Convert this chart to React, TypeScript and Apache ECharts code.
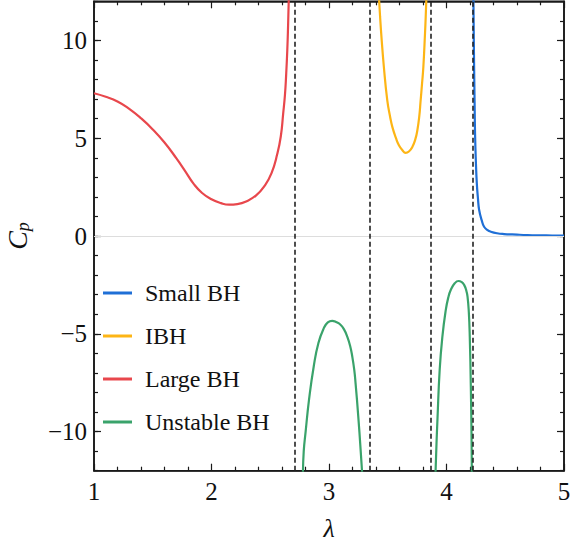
import React, { useEffect, useRef } from "react";
import * as echarts from "echarts";

// ---- data ----
const smallBH: [number, number][] = [
  [4.229, 12.2], [4.232, 10.3], [4.235, 8.64], [4.239, 6.9], [4.243, 5.24], [4.25, 3.8],
  [4.258, 2.69], [4.268, 1.9], [4.278, 1.33], [4.3, 0.8], [4.32, 0.47], [4.35, 0.3],
  [4.377, 0.22], [4.43, 0.14], [4.49, 0.1], [4.6, 0.07], [4.69, 0.05], [4.8, 0.035],
  [4.9, 0.025], [5.0, 0.02],
];
const ibh: [number, number][] = [
  [3.425, 12.2], [3.435, 11.2], [3.445, 10.3], [3.467, 8.64], [3.496, 6.94], [3.52, 6.1],
  [3.539, 5.58], [3.57, 5.0], [3.595, 4.64], [3.625, 4.38], [3.652, 4.25], [3.68, 4.32],
  [3.71, 4.56], [3.735, 4.95], [3.752, 5.41], [3.768, 6.1], [3.78, 6.94], [3.792, 7.8],
  [3.803, 8.64], [3.817, 10.34], [3.823, 11.2], [3.829, 12.2],
];
const largeBH: [number, number][] = [
  [1.0, 7.3], [1.1, 7.12], [1.2, 6.88], [1.3, 6.5], [1.4, 6.02], [1.5, 5.45], [1.6, 4.78],
  [1.7, 3.98], [1.77, 3.37], [1.85, 2.65], [1.92, 2.2], [2.0, 1.88], [2.08, 1.68],
  [2.15, 1.6], [2.22, 1.63], [2.3, 1.78], [2.38, 2.08], [2.45, 2.55], [2.51, 3.2],
  [2.56, 4.2], [2.59, 5.1], [2.61, 6.26], [2.625, 7.2], [2.635, 8.2], [2.645, 9.5],
  [2.652, 10.8], [2.658, 12.2],
];
const unstableBH1: [number, number][] = [
  [2.778, -12.2], [2.785, -11.0], [2.8, -10.07], [2.83, -8.37], [2.87, -6.67], [2.91, -5.47],
  [2.956, -4.71], [2.99, -4.42], [3.027, -4.34], [3.06, -4.4], [3.098, -4.54], [3.13, -4.8],
  [3.155, -5.14], [3.18, -5.62], [3.198, -6.16], [3.215, -6.85], [3.226, -7.52],
  [3.249, -9.22], [3.269, -10.92], [3.283, -12.2],
];
const unstableBH2: [number, number][] = [
  [3.906, -12.2], [3.915, -10.6], [3.923, -9.39], [3.942, -6.84], [3.965, -5.14],
  [3.994, -3.78], [4.015, -3.15], [4.036, -2.76], [4.07, -2.42], [4.102, -2.3], [4.13, -2.36],
  [4.15, -2.5], [4.168, -2.78], [4.179, -3.1], [4.19, -3.9], [4.198, -5.14], [4.207, -7.69],
  [4.213, -10.24], [4.216, -12.2],
];
const asymptotes = [2.714, 3.354, 3.874, 4.224];
const yMajorTicks = [-10, -5, 0, 5, 10];
const xRange = [1, 5];
const yRange = [-12, 12];

const FONT = "Liberation Serif";
const FRAME = "#1a1a1a";

const fmtNum = (v: number) => (v < 0 ? "\u2212" + Math.abs(v) : String(v));
const blank = () => "";

export default function App() {
  const ref = useRef<HTMLDivElement>(null);
  useEffect(() => {
    if (!ref.current) return;
    const chart = echarts.init(ref.current, undefined, { renderer: "svg" });

    const xAxisDef = (pos: "bottom" | "top", labels: boolean) => {
      const ax: any = {
        type: "value",
        position: pos,
        min: xRange[0],
        max: xRange[1],
        interval: 1,
        axisLine: { show: true, onZero: false, lineStyle: { color: FRAME, width: 1.6 } },
        axisTick: { show: true, inside: true, length: 7, lineStyle: { color: FRAME, width: 1.2 } },
        minorTick: { show: true, splitNumber: 5, length: 4, lineStyle: { color: FRAME, width: 1.2 } },
        splitLine: { show: false },
        axisLabel: {
          show: true,
          fontFamily: FONT,
          fontSize: 25,
          color: "#111",
          margin: 8,
          formatter: labels ? fmtNum : blank,
        },
      };
      if (labels) {
        ax.name = "λ";
        ax.nameLocation = "middle";
        ax.nameGap = 45;
        ax.nameTextStyle = { fontFamily: FONT, fontSize: 26, fontStyle: "italic", color: "#111" };
      }
      return ax;
    };

    const yMinorDef = (pos: "left" | "right", labels: boolean) => {
      const ax: any = {
        type: "value",
        position: pos,
        min: yRange[0],
        max: yRange[1],
        interval: 1,
        axisLine: { show: true, onZero: false, lineStyle: { color: FRAME, width: 1.6 } },
        axisTick: { show: true, inside: true, length: 4, lineStyle: { color: FRAME, width: 1.2 } },
        splitLine: { show: false },
        axisLabel: {
          show: true,
          fontFamily: FONT,
          fontSize: 25,
          color: "#111",
          margin: 7,
          formatter: labels ? (v: number) => (v % 5 === 0 ? fmtNum(v) : "") : blank,
        },
      };
      if (labels) {
        ax.name = "{c|C}{p|p}";
        ax.nameLocation = "middle";
        ax.nameGap = 62;
        ax.nameRotate = 90;
        ax.nameTextStyle = {
          rich: {
            c: { fontFamily: FONT, fontSize: 28, fontStyle: "italic", color: "#111" },
            p: { fontFamily: FONT, fontSize: 18, fontStyle: "italic", color: "#111", padding: [12, 0, 0, 0] },
          },
        };
      }
      return ax;
    };

    const yMajorDef = (pos: "left" | "right") => ({
      type: "value",
      position: pos,
      min: yRange[0],
      max: yRange[1],
      interval: 1,
      axisLine: { show: false, onZero: false },
      axisTick: {
        show: true,
        inside: true,
        length: 7,
        customValues: yMajorTicks,
        lineStyle: { color: FRAME, width: 1.2 },
      },
      splitLine: { show: false },
      axisLabel: { show: false },
    });

    const lineSeries = (name: string, data: any[], color: string, extra: any = {}) => ({
      name,
      type: "line",
      data,
      showSymbol: false,
      symbol: "none",
      smooth: 0.5,
      clip: true,
      connectNulls: false,
      lineStyle: { color, width: 2.2 },
      itemStyle: { color },
      ...extra,
    });

    const option = {
      animation: false,
      backgroundColor: "#fff",
      grid: {
        left: 94,
        right: 7,
        top: 1.3,
        bottom: 74.3,
        outerBoundsMode: "none",
        show: true,
        borderColor: FRAME,
        borderWidth: 1.6,
        backgroundColor: "transparent",
      },
      legend: {
        orient: "vertical",
        left: 98,
        top: 276,
        itemWidth: 29,
        itemHeight: 3,
        itemGap: 19,
        icon: "rect",
        data: ["Small BH", "IBH", "Large BH", "Unstable BH"],
        textStyle: { fontFamily: FONT, fontSize: 24, color: "#111", padding: [0, 0, 0, 8] },
      },
      xAxis: [xAxisDef("bottom", true), xAxisDef("top", false)],
      yAxis: [yMinorDef("left", true), yMajorDef("left"), yMinorDef("right", false), yMajorDef("right")],
      series: [
        lineSeries("Small BH", smallBH, "#1f6fd6"),
        lineSeries("IBH", ibh, "#fdb515"),
        lineSeries("Large BH", largeBH, "#e8474c"),
        lineSeries("Unstable BH", [...unstableBH1, [3.6, "-"], ...unstableBH2], "#3aa36b", {
          markLine: {
            silent: true,
            symbol: "none",
            label: { show: false },
            data: [
              { yAxis: 0, lineStyle: { color: "#dddddd", width: 1, type: "solid" } },
              ...asymptotes.map((a) => ({
                xAxis: a,
                lineStyle: { color: "#222", width: 1.6, type: [5, 3] },
              })),
            ],
          },
        }),
      ],
    };
    chart.setOption(option as any);
    return () => chart.dispose();
  }, []);
  return <div ref={ref} style={{ position: "absolute", left: 0, top: 0, width: 571, height: 545 }} />;
}
